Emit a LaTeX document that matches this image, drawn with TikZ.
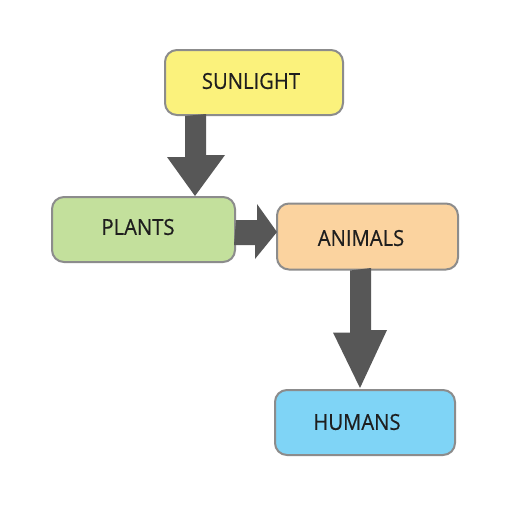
\documentclass[tikz,border=0pt]{standalone}
\usepackage{fontspec}
\setmainfont{Open Sans}
\newfontfamily\labelfont{Open Sans}[FakeStretch=0.92,FakeBold=0.4]
\usetikzlibrary{calc}
\definecolor{sunfill}{HTML}{FBF27C}
\definecolor{plantfill}{HTML}{C3E09C}
\definecolor{animalfill}{HTML}{FBD39F}
\definecolor{humanfill}{HTML}{7FD4F6}
\definecolor{boxline}{HTML}{8C8C8C}
\definecolor{arrowgray}{HTML}{575757}
\definecolor{textcol}{HTML}{1E1E1E}
\begin{document}
\begin{tikzpicture}[x=1pt,y=-1pt,
  box/.style={draw=boxline,line width=2pt,rounded corners=12pt,inner sep=0pt},
  boxtext/.style={font=\labelfont\fontsize{22}{24}\selectfont,text=textcol,inner sep=0pt},
  blockarrow/.style={fill=arrowgray}]
\useasboundingbox[fill=white] (0,0) rectangle (512,512);
\node[box,fill=sunfill,minimum width=178pt,minimum height=65pt,
  label={[boxtext,xshift=-3pt,yshift=1.5pt]center:SUNLIGHT}] (sun) at (254,82.5) {};
\node[box,fill=plantfill,minimum width=183pt,minimum height=65pt,
  label={[boxtext,xshift=-5.5pt,yshift=2.5pt]center:PLANTS}] (plants) at (143.5,229.5) {};
\node[box,fill=animalfill,minimum width=181pt,minimum height=66pt,
  label={[boxtext,xshift=-6.5pt,yshift=-1.5pt]center:ANIMALS}] (animals) at (367.5,236.5) {};
\node[box,fill=humanfill,minimum width=180pt,minimum height=65pt,
  label={[boxtext,xshift=-8pt,yshift=0.5pt]center:HUMANS}] (humans) at (365,422.5) {};
% sunlight -> plants
\fill[blockarrow] ($(sun.south)+(-69,0)$) -- ++(0,41) -- ++(-18,0)
  -- ($(plants.north)+(51.5,0)$) -- ++(30,-41) -- ++(-19,0) -- ++(0,-41) -- cycle;
% plants -> animals
\fill[blockarrow] ($(plants.east)+(0,-9.5)$) -- ++(21,0) -- ++(0,-16)
  -- ($(animals.west)+(1,-4.5)$) -- ++(-22,27) -- ++(0,-14) -- ++(-21,0) -- cycle;
% animals -> humans
\fill[blockarrow] ($(animals.south)+(-17.5,0)$) -- ++(0,62) -- ++(-17,0)
  -- ($(humans.north)+(-5,-1)$) -- ++(27,-58) -- ++(-16,0) -- ++(0,-62) -- cycle;
\end{tikzpicture}
\end{document}
